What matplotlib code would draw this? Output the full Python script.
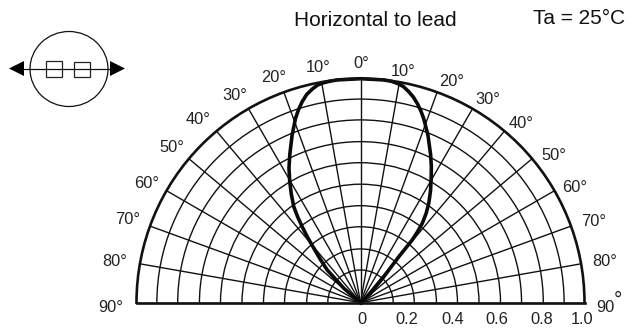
import matplotlib
matplotlib.use("Agg")
import matplotlib.pyplot as plt
import numpy as np
from matplotlib.patches import Ellipse, Polygon, Rectangle

plt.rcParams["font.family"] = ["Liberation Sans", "DejaVu Sans"]

W, H = 637, 329

# measured from the chart
ring_values = [0.146, 0.240, 0.339, 0.433, 0.529, 0.625, 0.719, 0.816, 0.909]
ray_angles = list(range(-90, 100, 10))

# pattern curve, left side then right side (deg, relative intensity)
left_angle = [-49.2, -45.5, -42.8, -40.6, -39.0, -37.5, -36.2, -34.8, -32.5, -30.3, -28.0, -25.6, -22.2, -19.4, -17.8, -16.2, -14.5, -12.7, -11.2, -9.9, -8, -6]
left_r = [0.098, 0.208, 0.265, 0.320, 0.375, 0.428, 0.475, 0.522, 0.575, 0.626, 0.680, 0.731, 0.808, 0.873, 0.905, 0.934, 0.960, 0.978, 0.990, 0.995, 0.998, 1.0]
right_angle = [0, 6, 8, 9.5, 11.2, 12.9, 14.4, 15.9, 17.4, 18.9, 21.9, 25.4, 27.5, 29.6, 32.0, 34.5, 36.3, 37.9, 38.8, 39.5, 39.8, 40.5, 41.9, 46.8]
right_r = [1.0, 1.0, 0.998, 0.993, 0.984, 0.966, 0.948, 0.925, 0.899, 0.870, 0.807, 0.730, 0.685, 0.639, 0.590, 0.538, 0.495, 0.449, 0.405, 0.363, 0.267, 0.215, 0.156, 0.061]

scale_labels = ["0", "0.2", "0.4", "0.6", "0.8", "1.0"]
scale_x = [361.5, 407, 453, 497, 542, 582]
left_labels = ["10°", "20°", "30°", "40°", "50°", "60°", "70°", "80°", "90°"]
left_xy = [(318, 68), (274, 77), (235, 96), (198.5, 119), (172, 148), (147, 183), (127.5, 220), (115, 262), (111, 308)]
right_labels = ["0°", "10°", "20°", "30°", "40°", "50°", "60°", "70°", "80°"]
right_xy = [(361, 63), (403, 71), (452, 82), (488, 100), (521, 124), (554, 156), (575, 188), (594, 222), (604.5, 261)]

fig = plt.figure(figsize=(W / 100, H / 100), dpi=100)

# the wedge fills the width of a square box and sits mid height in it
ax = fig.add_axes([136.5 / W, (H - 414.7) / H, 448 / W, 448 / H], projection="polar")
ax.set_theta_zero_location("N")
ax.set_theta_direction(-1)
ax.set_thetalim(-np.pi / 2, np.pi / 2)
ax.set_ylim(0, 1)
ax.set_xticks(np.radians(ray_angles))
ax.set_yticks(ring_values)
ax.set_xticklabels([])
ax.set_yticklabels([])
ax.tick_params(length=0)
ax.grid(True, color="#111111", lw=1.0)
ax.get_ygridlines()[2].set_linewidth(1.4)
for s in ax.spines.values():
    s.set_linewidth(1.9)
    s.set_color("#111111")

ax.plot(np.radians([-49.2] + left_angle + right_angle + [46.8]), [0] + left_r + right_r + [0], color="#0a0a0a", lw=2.6,
        solid_joinstyle="round", clip_on=False)

# overlay in pixel coordinates for the labels and the lead sketch
ov = fig.add_axes([0, 0, 1, 1])
ov.set_xlim(0, W)
ov.set_ylim(H, 0)
ov.axis("off")
ov.patch.set_alpha(0)

txt = dict(ha="center", va="center", color="#222222", fontsize=11.8)
for lab, (x, y) in zip(left_labels, left_xy):
    ov.text(x, y, lab, **txt)
for lab, (x, y) in zip(right_labels, right_xy):
    ov.text(x, y, lab, **txt)
for lab, x in zip(scale_labels, scale_x):
    ov.text(x, 319, lab, **txt)
ov.text(605, 308, "90", **txt)
ov.text(618, 300, "°", ha="center", va="center", color="#222222", fontsize=15)
ov.text(375.5, 20, "Horizontal to lead", ha="center", va="center", color="#111111", fontsize=15)
ov.text(579, 18, "Ta = 25°C", ha="center", va="center", color="#111111", fontsize=15)

# lead sketch
ov.add_patch(Ellipse((69, 69), 78, 75, fc="none", ec="#111111", lw=0.9))
ov.plot([24, 112], [69, 69], color="#111111", lw=0.9)
ov.add_patch(Rectangle((45.5, 60.5), 16, 16, fc="none", ec="#222222", lw=0.9))
ov.add_patch(Rectangle((74, 61.5), 16, 15.5, fc="none", ec="#222222", lw=0.9))
ov.add_patch(Polygon([(9, 68.5), (24, 61), (24, 76)], fc="black", ec="none"))
ov.add_patch(Polygon([(125, 68.5), (110, 61), (110, 76)], fc="black", ec="none"))

fig.savefig("out.png", dpi=100, facecolor="white")
